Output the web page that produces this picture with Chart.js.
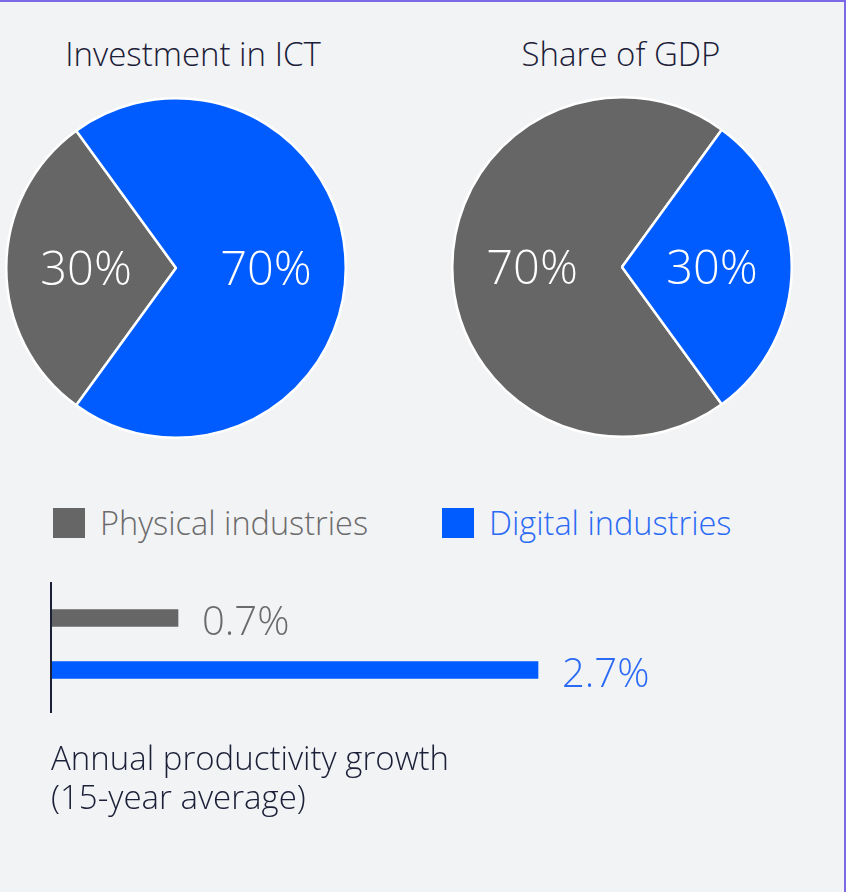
<!DOCTYPE html>
<html>
<head>
<meta charset="utf-8">
<script src="https://cdn.jsdelivr.net/npm/chart.js"></script>
<style>
  html, body { margin: 0; padding: 0; }
  body { width: 846px; height: 892px; overflow: hidden; background: #f2f3f5; font-family: "Open Sans", "Noto Sans", sans-serif; font-weight: 300; }
  #wrap { position: absolute; left: 0; top: 0; width: 844px; height: 890px; border-top: 2px solid #7b69e6; border-right: 2px solid #7b69e6; }
  .title { position: absolute; top: 29px; font-size: 33px; color: #1b2038; text-align: center; width: 400px; white-space: nowrap; }
  canvas { position: absolute; }
  .legend { position: absolute; top: 498px; font-size: 32.5px; white-space: nowrap; }
  .legend span.sw { display: inline-block; width: 32px; height: 30px; vertical-align: middle; margin-right: 15px; position: relative; top: -3px; }
  .foot { position: absolute; left: 51px; top: 736px; font-size: 33px; line-height: 39px; color: #1b2038; }
</style>
</head>
<body>
<div id="wrap">
  <div class="title" style="left:-7px">Investment in ICT</div>
  <div class="title" style="left:421px">Share of GDP</div>
  <canvas id="pie1" width="344" height="344" style="left:4px;top:94px"></canvas>
  <canvas id="pie2" width="344" height="344" style="left:450px;top:93px"></canvas>
  <div class="legend" style="left:53px;color:#6b6b6b"><span class="sw" style="background:#666666"></span>Physical industries</div>
  <div class="legend" style="left:442px;color:#2a6af5"><span class="sw" style="background:#005cff"></span>Digital industries</div>
  <canvas id="bars" width="846" height="180" style="left:0;top:558px"></canvas>
  <div class="foot">Annual productivity growth<br>(15-year average)</div>
</div>
<script>
const industries = ['Physical industries', 'Digital industries']
const industryColors = ['#666666', '#005cff']
const labelColors = ['#6b6b6b', '#2a6af5']

// pie data (percent)
const investmentICT = [30, 70]
const shareGDP = [70, 30]

// annual productivity growth, 15-year average (percent)
const productivityGrowth = [0.7, 2.7]

const FONT = '"Open Sans", "Noto Sans", sans-serif'

const pieLabels = {
    id: 'pieLabels',
    afterDatasetsDraw(chart) {
        const ctx = chart.ctx
        const meta = chart.getDatasetMeta(0)
        ctx.save()
        ctx.fillStyle = '#ffffff'
        ctx.font = '300 47px ' + FONT
        ctx.textAlign = 'center'
        ctx.textBaseline = 'middle'
        meta.data.forEach((arc, i) => {
            // a little further out than the middle of the radius
            const mid = (arc.startAngle + arc.endAngle) / 2
            const r = arc.outerRadius * 0.53
            ctx.fillText(chart.data.datasets[0].data[i] + '%', arc.x + Math.cos(mid) * r, arc.y + Math.sin(mid) * r + 4)
        })
        ctx.restore()
    }
}

const makePie = (id, values, rotation) => {
    new Chart(document.getElementById(id).getContext('2d'), {
        type: 'pie',
        data: {
            labels: industries,
            datasets: [{
                data: values,
                backgroundColor: industryColors,
                borderColor: '#ffffff',
                borderWidth: 2.5
            }]
        },
        options: {
            responsive: false,
            animation: false,
            rotation: rotation,
            layout: { padding: 1 },
            plugins: { legend: { display: false }, tooltip: { enabled: false } }
        },
        plugins: [pieLabels]
    })
}

// gray slice centred on the left for the first pie, blue slice centred on the right for the second
makePie('pie1', investmentICT, 216)
makePie('pie2', shareGDP, 144)

const barLabels = {
    id: 'barLabels',
    afterDatasetsDraw(chart) {
        const ctx = chart.ctx
        const meta = chart.getDatasetMeta(0)
        const x0 = chart.scales.x.getPixelForValue(0)
        ctx.save()
        // axis line
        ctx.strokeStyle = '#1b2038'
        ctx.lineWidth = 2
        ctx.beginPath()
        ctx.moveTo(x0 - 1, chart.chartArea.top - 10)
        ctx.lineTo(x0 - 1, chart.chartArea.bottom + 17)
        ctx.stroke()
        ctx.font = '300 40px ' + FONT
        ctx.textBaseline = 'middle'
        meta.data.forEach((bar, i) => {
            ctx.fillStyle = labelColors[i]
            ctx.fillText(productivityGrowth[i].toFixed(1) + '%', bar.x + 24, bar.y + 6)
        })
        ctx.restore()
    }
}

new Chart(document.getElementById('bars').getContext('2d'), {
    type: 'bar',
    data: {
        labels: industries,
        datasets: [{
            data: productivityGrowth,
            backgroundColor: industryColors,
            barThickness: 17
        }]
    },
    options: {
        indexAxis: 'y',
        responsive: false,
        animation: false,
        layout: { padding: { left: 52, right: 74, top: 32, bottom: 44 } },
        scales: {
            x: { display: false, min: 0, max: 4 },
            y: { display: false }
        },
        plugins: { legend: { display: false }, tooltip: { enabled: false } }
    },
    plugins: [barLabels]
})
</script>
</body>
</html>
